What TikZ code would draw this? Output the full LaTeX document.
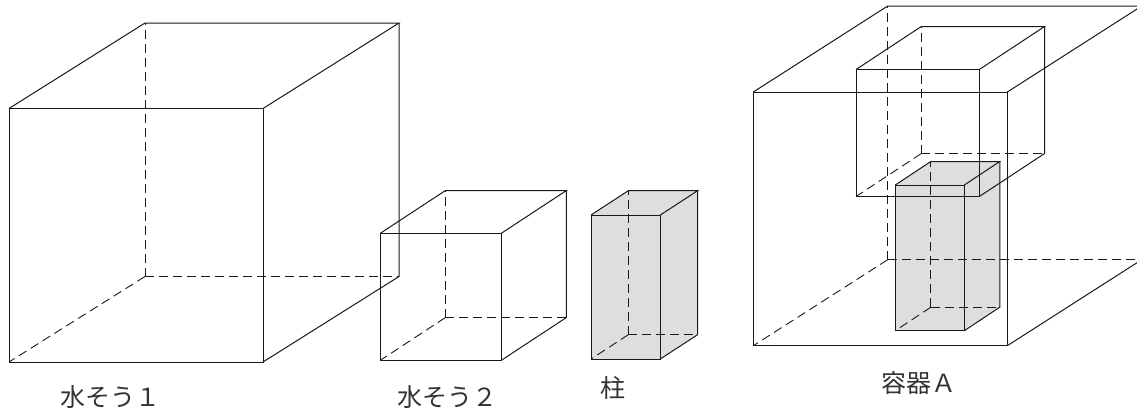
\documentclass[tikz,border=0pt]{standalone}
\usepackage{fontspec}
\newfontfamily\cjk{Noto Sans CJK JP}
\tikzset{
  edge/.style={draw=black!90,line width=1pt},
  hidden/.style={draw=black!90,line width=0.9pt,dash pattern=on 9pt off 5pt},
  solidfill/.style={fill=black!13,draw=none},
  caption/.style={inner sep=0pt,font=\cjk\fontsize{25}{25}\selectfont,text=black!80},
}
% name, front x1 y1 x2 y2, back offset dx dy
\newcommand{\prismpts}[7]{%
  \coordinate (#1a) at (#2,#3);
  \coordinate (#1b) at (#4,#3);
  \coordinate (#1c) at (#4,#5);
  \coordinate (#1d) at (#2,#5);
  \coordinate (#1e) at (#2+#6,#3-#7);
  \coordinate (#1f) at (#4+#6,#3-#7);
  \coordinate (#1g) at (#4+#6,#5-#7);
  \coordinate (#1h) at (#2+#6,#5-#7);
}
\newcommand{\prismfill}[1]{%
  \fill[solidfill] (#1a) -- (#1e) -- (#1f) -- (#1g) -- (#1c) -- (#1d) -- cycle;
}
\newcommand{\prismlines}[1]{%
  \draw[edge] (#1a) -- (#1b) -- (#1c) -- (#1d) -- cycle;
  \draw[edge] (#1a) -- (#1e) -- (#1f) -- (#1b);
  \draw[edge] (#1f) -- (#1g) -- (#1c);
  \draw[hidden] (#1h) -- (#1e);
  \draw[hidden] (#1h) -- (#1g);
  \draw[hidden] (#1h) -- (#1d);
}
\begin{document}
\begin{tikzpicture}[x=1pt,y=-1pt]
\useasboundingbox (0,0) rectangle (1137,410);
\clip (0,0) rectangle (1137,410);
\prismpts{p}{9}{108.5}{263}{362}{136}{85.5}
\prismpts{q}{380.3}{233.3}{501.3}{360.3}{65}{42.7}
\prismpts{r}{591}{215}{660.3}{359}{37.3}{24.3}
\prismpts{s}{753.3}{92}{1007.3}{345.7}{134.4}{86}
\prismpts{t}{856}{69.5}{979.3}{196.5}{65.3}{43}
\prismpts{u}{895.3}{185}{964.3}{330.7}{35.5}{23.5}
\prismfill{r}
\prismfill{u}
\prismlines{p}
\prismlines{q}
\prismlines{r}
\prismlines{s}
\prismlines{t}
\prismlines{u}
\node[caption] (l1) at (110,397) {水そう１};
\node[caption] (l2) at (447,397) {水そう２};
\node[caption] (l3) at (613,388) {柱};
\node[caption] (l4) at (919,383) {容器Ａ};
\end{tikzpicture}
\end{document}
